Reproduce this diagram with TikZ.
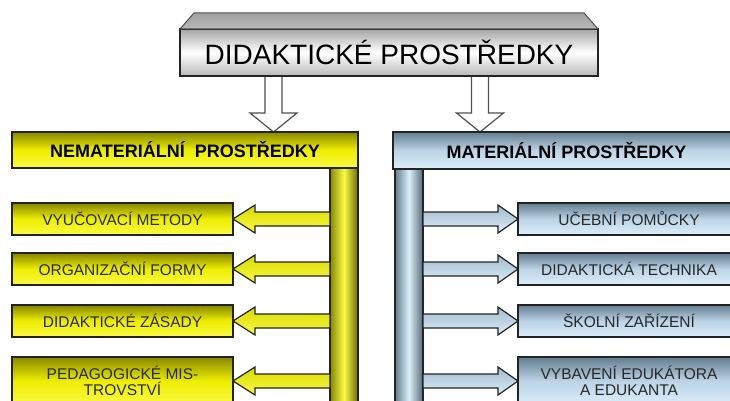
\documentclass[tikz,border=0pt]{standalone}
\usepackage{fontspec}
\setmainfont{Liberation Sans}
\usetikzlibrary{calc}
\definecolor{ytop}{RGB}{250,250,70}
\definecolor{ymid}{RGB}{238,238,0}
\definecolor{ybot}{RGB}{135,135,0}
\definecolor{btop}{RGB}{220,238,250}
\definecolor{bmid}{RGB}{188,212,230}
\definecolor{bbot}{RGB}{100,125,142}
\definecolor{edge}{RGB}{35,35,35}
\definecolor{txt}{RGB}{40,40,40}
\begin{document}
% note: y axis points down, so "top color" of a shading shows at the visual bottom
\begin{tikzpicture}[x=1pt,y=-1pt,
  common/.style={draw=edge, line width=1.3pt, inner sep=0pt, outer sep=0pt, align=center, text=txt},
  ybox/.style={common, top color=ybot, bottom color=ytop, middle color=ymid, font=\fontsize{15.5}{15.5}\selectfont},
  bbox/.style={common, top color=bbot, bottom color=btop, middle color=bmid, font=\fontsize{15.5}{15.5}\selectfont},
  yhead/.style={ybox, text=black, font=\bfseries\fontsize{18}{22}\selectfont},
  bhead/.style={bbox, text=black, font=\bfseries\fontsize{18}{22}\selectfont},
  ybar/.style={common, left color=ybot, right color=ybot!80!black, middle color=ytop},
  bbar/.style={common, left color=bbot, right color=bbot!85!black, middle color=btop},
  yarr/.style={draw=edge, line width=1.2pt, line join=miter, top color=ymid!80!ybot, bottom color=ytop},
  barr/.style={draw=edge, line width=1.2pt, line join=miter, top color=bmid!70!bbot, bottom color=btop},
  darr/.style={draw=edge!80, line width=1.2pt, line join=miter, fill=white},
  topbox/.style={common, text=black, top color=gray!70, bottom color=gray!55, middle color=white, font=\fontsize{28}{32}\selectfont},
  bevel/.style={draw=edge!80, line width=1pt, line join=miter, top color=gray!75, bottom color=gray!55}
]
\clip (0,0) rectangle (730,401);
\fill[white] (0,0) rectangle (730,401);

% nodes
\node[topbox, minimum width=418pt, minimum height=47pt] (top) at (389,52.5) {DIDAKTICKÉ PROSTŘEDKY};
\node[yhead, minimum width=346pt, minimum height=36pt] (lhead) at (185,150) {NEMATERIÁLNÍ\ \ PROSTŘEDKY};
\node[bhead, minimum width=347pt, minimum height=37pt] (rhead) at (566.5,150.5) {MATERIÁLNÍ PROSTŘEDKY};
\node[ybar, minimum width=28pt, minimum height=252pt] (lbar) at (344,294) {};
\node[bbar, minimum width=28pt, minimum height=251pt] (rbar) at (409,294.5) {};

\node[ybox, minimum width=221pt, minimum height=32pt] (l1) at (122.5,219) {VYUČOVACÍ METODY};
\node[ybox, minimum width=221pt, minimum height=32pt] (l2) at (122.5,269) {ORGANIZAČNÍ FORMY};
\node[ybox, minimum width=221pt, minimum height=32pt] (l3) at (122.5,321) {DIDAKTICKÉ ZÁSADY};
\node[ybox, minimum width=221pt, minimum height=48pt] (l4) at (122.5,381) {PEDAGOGICKÉ MIS-\\TROVSTVÍ};

\node[bbox, minimum width=222pt, minimum height=32pt] (r1) at (629,219) {UČEBNÍ POMŮCKY};
\node[bbox, minimum width=222pt, minimum height=32pt] (r2) at (629,269) {DIDAKTICKÁ TECHNIKA};
\node[bbox, minimum width=222pt, minimum height=32pt] (r3) at (629,321) {ŠKOLNÍ ZAŘÍZENÍ};
\node[bbox, minimum width=222pt, minimum height=48pt] (r4) at (629,381) {VYBAVENÍ EDUKÁTORA\\A EDUKANTA};

% top bevel
\draw[bevel] (top.north west) -- ($(top.north west)+(14,-16)$) -- ($(top.north east)+(-14,-16)$) -- (top.north east) -- cycle;

% down arrows
\coordinate (lx) at (273.5,0);
\coordinate (rx) at (480,0);
\coordinate (ld) at (lx |- top.south);
\coordinate (lt) at (lx |- lhead.north);
\coordinate (rd) at (rx |- top.south);
\coordinate (rt) at (rx |- rhead.north);
\foreach \s/\t in {ld/lt, rd/rt}{
  \draw[darr] ($(\s)+(-8.5,0)$) -- ($(\t)+(-8.5,-19)$) -- ($(\t)+(-23.5,-19)$) -- (\t)
    -- ($(\t)+(23.5,-19)$) -- ($(\t)+(8.5,-19)$) -- ($(\s)+(8.5,0)$);
}
\draw[edge, line width=1.3pt] (top.south west) -- (top.south east);
\draw[edge, line width=1.3pt] (lhead.north west) -- (lhead.north east);
\draw[edge, line width=1.3pt] (rhead.north west) -- (rhead.north east);

% left arrows
\foreach \b in {l1,l2,l3,l4}{
  \coordinate (e) at (lbar.west |- \b.east);
  \draw[yarr] (\b.east) -- ($(\b.east)+(22,-14)$) -- ($(\b.east)+(22,-7)$) -- ($(e)+(0,-7)$)
    -- ($(e)+(0,7)$) -- ($(\b.east)+(22,7)$) -- ($(\b.east)+(22,14)$) -- cycle;
}
% right arrows
\foreach \b in {r1,r2,r3,r4}{
  \coordinate (e) at (rbar.east |- \b.west);
  \draw[barr] (\b.west) -- ($(\b.west)+(-20,-14)$) -- ($(\b.west)+(-20,-7)$) -- ($(e)+(0,-7)$)
    -- ($(e)+(0,7)$) -- ($(\b.west)+(-20,7)$) -- ($(\b.west)+(-20,14)$) -- cycle;
}
\end{tikzpicture}
\end{document}
